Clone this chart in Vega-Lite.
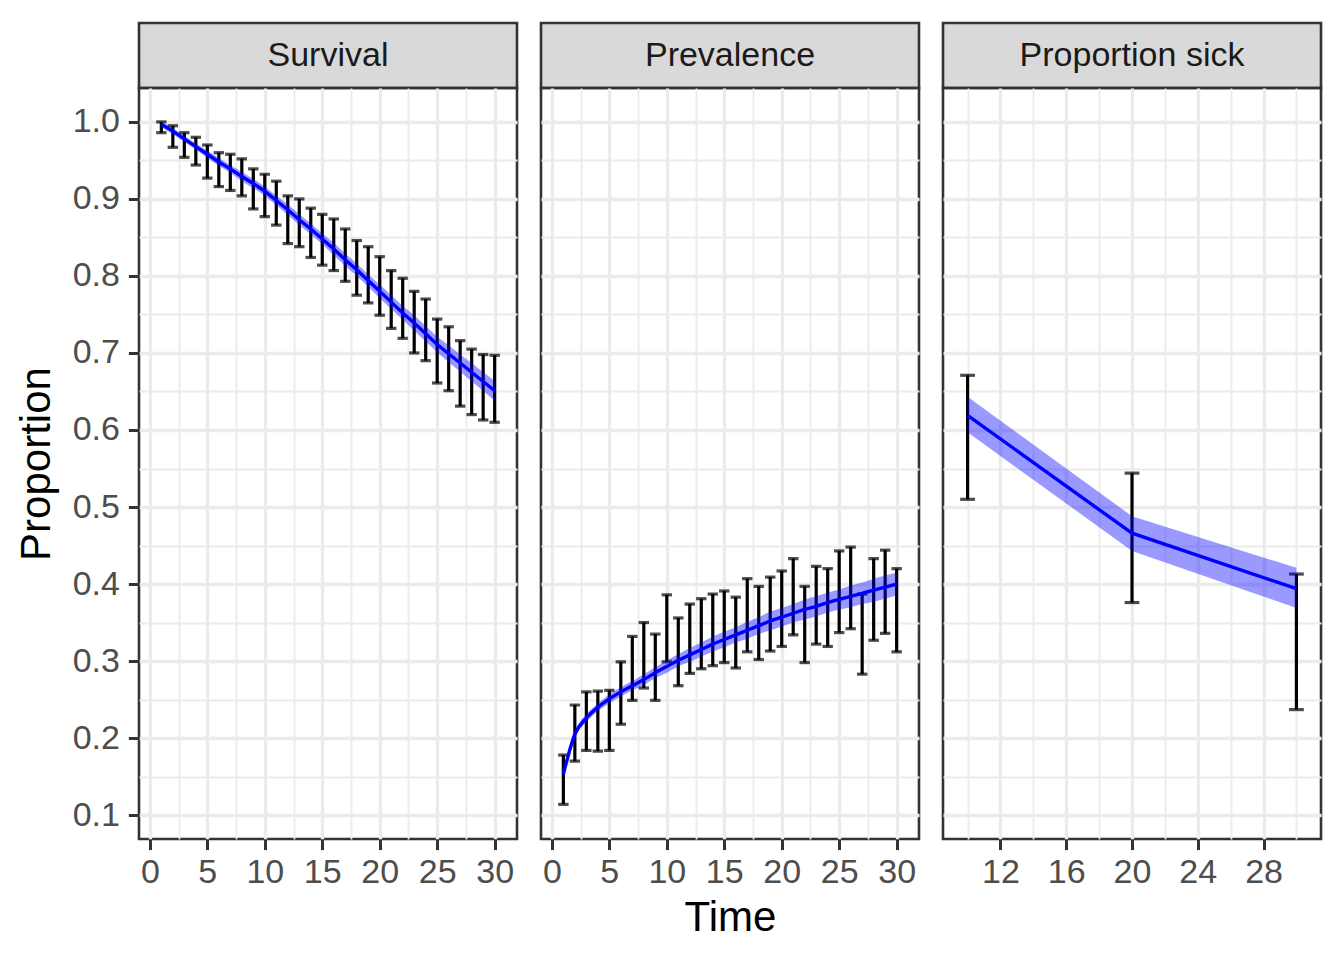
{
  "$schema": "https://vega.github.io/schema/vega-lite/v6.json",
  "padding": {"left": 13, "top": 21, "right": 0, "bottom": 0},
  "background": "white",
  "config": {
    "font": "Liberation Sans",
    "view": {"stroke": "#333333", "strokeWidth": 2.6},
    "axis": {
      "labelFont": "Liberation Sans", "labelFontSize": 34, "labelColor": "#4D4D4D",
      "titleFont": "Liberation Sans", "titleFontSize": 42, "titleColor": "#000000", "titleFontWeight": "normal",
      "tickColor": "#333333", "tickWidth": 3, "tickSize": 10.6,
      "domain": false, "gridColor": "#EBEBEB", "labelFlush": false, "labelOverlap": false
    },
    "axisX": {"labelPadding": 6, "titlePadding": 8},
    "axisY": {"labelPadding": 9, "titlePadding": 14}
  },
  "datasets": {
    "surv": [
      {"t": 1, "lo": 0.986, "hi": 1.000, "fit": 0.997, "flo": 0.993, "fhi": 1.000},
      {"t": 2, "lo": 0.967, "hi": 0.995, "fit": 0.988, "flo": 0.984, "fhi": 0.992},
      {"t": 3, "lo": 0.954, "hi": 0.986, "fit": 0.978, "flo": 0.974, "fhi": 0.982},
      {"t": 4, "lo": 0.944, "hi": 0.980, "fit": 0.968, "flo": 0.964, "fhi": 0.972},
      {"t": 5, "lo": 0.927, "hi": 0.970, "fit": 0.958, "flo": 0.953, "fhi": 0.963},
      {"t": 6, "lo": 0.916, "hi": 0.960, "fit": 0.948, "flo": 0.943, "fhi": 0.953},
      {"t": 7, "lo": 0.911, "hi": 0.958, "fit": 0.939, "flo": 0.934, "fhi": 0.944},
      {"t": 8, "lo": 0.904, "hi": 0.952, "fit": 0.929, "flo": 0.923, "fhi": 0.935},
      {"t": 9, "lo": 0.887, "hi": 0.939, "fit": 0.920, "flo": 0.914, "fhi": 0.926},
      {"t": 10, "lo": 0.877, "hi": 0.932, "fit": 0.910, "flo": 0.904, "fhi": 0.916},
      {"t": 11, "lo": 0.866, "hi": 0.923, "fit": 0.898, "flo": 0.892, "fhi": 0.904},
      {"t": 12, "lo": 0.842, "hi": 0.904, "fit": 0.886, "flo": 0.879, "fhi": 0.893},
      {"t": 13, "lo": 0.838, "hi": 0.900, "fit": 0.873, "flo": 0.866, "fhi": 0.880},
      {"t": 14, "lo": 0.824, "hi": 0.888, "fit": 0.861, "flo": 0.854, "fhi": 0.868},
      {"t": 15, "lo": 0.814, "hi": 0.880, "fit": 0.848, "flo": 0.841, "fhi": 0.855},
      {"t": 16, "lo": 0.807, "hi": 0.874, "fit": 0.835, "flo": 0.827, "fhi": 0.843},
      {"t": 17, "lo": 0.793, "hi": 0.861, "fit": 0.821, "flo": 0.813, "fhi": 0.829},
      {"t": 18, "lo": 0.775, "hi": 0.846, "fit": 0.808, "flo": 0.800, "fhi": 0.816},
      {"t": 19, "lo": 0.765, "hi": 0.838, "fit": 0.794, "flo": 0.786, "fhi": 0.802},
      {"t": 20, "lo": 0.749, "hi": 0.825, "fit": 0.780, "flo": 0.771, "fhi": 0.789},
      {"t": 21, "lo": 0.732, "hi": 0.807, "fit": 0.766, "flo": 0.757, "fhi": 0.775},
      {"t": 22, "lo": 0.719, "hi": 0.797, "fit": 0.752, "flo": 0.743, "fhi": 0.761},
      {"t": 23, "lo": 0.700, "hi": 0.780, "fit": 0.739, "flo": 0.729, "fhi": 0.749},
      {"t": 24, "lo": 0.690, "hi": 0.770, "fit": 0.725, "flo": 0.715, "fhi": 0.735},
      {"t": 25, "lo": 0.661, "hi": 0.744, "fit": 0.711, "flo": 0.701, "fhi": 0.721},
      {"t": 26, "lo": 0.651, "hi": 0.734, "fit": 0.699, "flo": 0.688, "fhi": 0.710},
      {"t": 27, "lo": 0.631, "hi": 0.716, "fit": 0.687, "flo": 0.676, "fhi": 0.698},
      {"t": 28, "lo": 0.620, "hi": 0.705, "fit": 0.675, "flo": 0.663, "fhi": 0.687},
      {"t": 29, "lo": 0.613, "hi": 0.698, "fit": 0.663, "flo": 0.651, "fhi": 0.675},
      {"t": 30, "lo": 0.610, "hi": 0.697, "fit": 0.651, "flo": 0.638, "fhi": 0.664}
    ],
    "prev": [
      {"t": 1, "lo": 0.114, "hi": 0.178, "fit": 0.153, "flo": 0.150, "fhi": 0.156},
      {"t": 2, "lo": 0.170, "hi": 0.243, "fit": 0.205, "flo": 0.201, "fhi": 0.209},
      {"t": 3, "lo": 0.184, "hi": 0.260, "fit": 0.226, "flo": 0.221, "fhi": 0.231},
      {"t": 4, "lo": 0.183, "hi": 0.261, "fit": 0.240, "flo": 0.235, "fhi": 0.245},
      {"t": 5, "lo": 0.184, "hi": 0.262, "fit": 0.251, "flo": 0.245, "fhi": 0.257},
      {"t": 6, "lo": 0.218, "hi": 0.299, "fit": 0.260, "flo": 0.254, "fhi": 0.266},
      {"t": 7, "lo": 0.249, "hi": 0.332, "fit": 0.268, "flo": 0.262, "fhi": 0.274},
      {"t": 8, "lo": 0.265, "hi": 0.350, "fit": 0.276, "flo": 0.269, "fhi": 0.283},
      {"t": 9, "lo": 0.249, "hi": 0.335, "fit": 0.285, "flo": 0.278, "fhi": 0.292},
      {"t": 10, "lo": 0.299, "hi": 0.386, "fit": 0.293, "flo": 0.285, "fhi": 0.301},
      {"t": 11, "lo": 0.268, "hi": 0.356, "fit": 0.301, "flo": 0.293, "fhi": 0.309},
      {"t": 12, "lo": 0.284, "hi": 0.374, "fit": 0.308, "flo": 0.299, "fhi": 0.317},
      {"t": 13, "lo": 0.290, "hi": 0.381, "fit": 0.315, "flo": 0.306, "fhi": 0.324},
      {"t": 14, "lo": 0.294, "hi": 0.387, "fit": 0.322, "flo": 0.312, "fhi": 0.332},
      {"t": 15, "lo": 0.298, "hi": 0.391, "fit": 0.328, "flo": 0.318, "fhi": 0.338},
      {"t": 16, "lo": 0.291, "hi": 0.383, "fit": 0.334, "flo": 0.324, "fhi": 0.344},
      {"t": 17, "lo": 0.312, "hi": 0.407, "fit": 0.340, "flo": 0.329, "fhi": 0.351},
      {"t": 18, "lo": 0.302, "hi": 0.397, "fit": 0.346, "flo": 0.335, "fhi": 0.357},
      {"t": 19, "lo": 0.313, "hi": 0.409, "fit": 0.352, "flo": 0.340, "fhi": 0.364},
      {"t": 20, "lo": 0.319, "hi": 0.417, "fit": 0.357, "flo": 0.345, "fhi": 0.369},
      {"t": 21, "lo": 0.334, "hi": 0.433, "fit": 0.362, "flo": 0.350, "fhi": 0.374},
      {"t": 22, "lo": 0.298, "hi": 0.397, "fit": 0.367, "flo": 0.354, "fhi": 0.380},
      {"t": 23, "lo": 0.322, "hi": 0.423, "fit": 0.371, "flo": 0.358, "fhi": 0.384},
      {"t": 24, "lo": 0.319, "hi": 0.420, "fit": 0.376, "flo": 0.363, "fhi": 0.389},
      {"t": 25, "lo": 0.337, "hi": 0.443, "fit": 0.380, "flo": 0.367, "fhi": 0.393},
      {"t": 26, "lo": 0.342, "hi": 0.448, "fit": 0.384, "flo": 0.370, "fhi": 0.398},
      {"t": 27, "lo": 0.283, "hi": 0.387, "fit": 0.388, "flo": 0.374, "fhi": 0.402},
      {"t": 28, "lo": 0.327, "hi": 0.433, "fit": 0.392, "flo": 0.377, "fhi": 0.407},
      {"t": 29, "lo": 0.336, "hi": 0.444, "fit": 0.396, "flo": 0.381, "fhi": 0.411},
      {"t": 30, "lo": 0.312, "hi": 0.420, "fit": 0.400, "flo": 0.385, "fhi": 0.415}
    ],
    "sick": [
      {"t": 10, "lo": 0.510, "hi": 0.671, "fit": 0.619, "flo": 0.597, "fhi": 0.643},
      {"t": 20, "lo": 0.376, "hi": 0.544, "fit": 0.466, "flo": 0.443, "fhi": 0.488},
      {"t": 30, "lo": 0.237, "hi": 0.413, "fit": 0.394, "flo": 0.369, "fhi": 0.421}
    ]
  },
  "hconcat": [
    {
      "vconcat": [
        {
          "width": 378, "height": 65,
          "view": {"fill": "#D9D9D9", "stroke": "#333333", "strokeWidth": 2.6},
          "data": {"values": [{"label": "Survival"}]},
          "mark": {"type": "text", "font": "Liberation Sans", "fontSize": 34, "color": "#1A1A1A"},
          "encoding": {"text": {"field": "label"}}
        },
        {
          "width": 378, "height": 751,
          "data": {"name": "surv"},
          "encoding": {
            "x": {"field": "t", "type": "quantitative",
              "scale": {"domain": [-0.945, 31.945], "nice": false, "zero": false},
              "axis": {"title": null, "values": [0, 2.5, 5, 7.5, 10, 12.5, 15, 17.5, 20, 22.5, 25, 27.5, 30],
                "labelExpr": "datum.value % 5 === 0 ? format(datum.value, 'd') : ''",
                "tickOpacity": {"condition": {"test": "datum.value % 5 !== 0", "value": 0}, "value": 1},
                "gridWidth": {"condition": {"test": "datum.value % 5 !== 0", "value": 1.8}, "value": 3.3}}}
          },
          "layer": [
            {"mark": {"type": "rule", "color": "#000000", "strokeWidth": 3.2},
             "encoding": {
               "y": {"field": "lo", "type": "quantitative", "title": "Proportion",
                 "scale": {"domain": [0.069, 1.044], "nice": false, "zero": false},
                 "axis": {"title": "Proportion", "values": [0.1, 0.15, 0.2, 0.25, 0.3, 0.35, 0.4, 0.45, 0.5, 0.55, 0.6, 0.65, 0.7, 0.75, 0.8, 0.85, 0.9, 0.95, 1.0],
                   "labelExpr": "round(datum.value * 100) % 10 === 0 ? format(datum.value, '.1f') : ''",
                   "tickOpacity": {"condition": {"test": "round(datum.value * 100) % 10 !== 0", "value": 0}, "value": 1},
                   "gridWidth": {"condition": {"test": "round(datum.value * 100) % 10 !== 0", "value": 1.8}, "value": 3.3}}},
               "y2": {"field": "hi"}}},
            {"mark": {"type": "tick", "orient": "horizontal", "color": "#000000", "thickness": 3.2, "size": 10.4},
             "encoding": {"y": {"field": "lo", "type": "quantitative", "title": "Proportion"}}},
            {"mark": {"type": "tick", "orient": "horizontal", "color": "#000000", "thickness": 3.2, "size": 10.4},
             "encoding": {"y": {"field": "hi", "type": "quantitative", "title": "Proportion"}}},
            {"mark": {"type": "area", "color": "#0000FF", "opacity": 0.4},
             "encoding": {"y": {"field": "flo", "type": "quantitative", "title": "Proportion"}, "y2": {"field": "fhi"}}},
            {"mark": {"type": "line", "color": "#0000FF", "strokeWidth": 3.4},
             "encoding": {"y": {"field": "fit", "type": "quantitative", "title": "Proportion"}}}
          ]
        }
      ],
      "spacing": 0, "bounds": "flush"
    },
    {
      "vconcat": [
        {
          "width": 378, "height": 65,
          "view": {"fill": "#D9D9D9", "stroke": "#333333", "strokeWidth": 2.6},
          "data": {"values": [{"label": "Prevalence"}]},
          "mark": {"type": "text", "font": "Liberation Sans", "fontSize": 34, "color": "#1A1A1A"},
          "encoding": {"text": {"field": "label"}}
        },
        {
          "width": 378, "height": 751,
          "data": {"name": "prev"},
          "encoding": {
            "x": {"field": "t", "type": "quantitative",
              "scale": {"domain": [-0.945, 31.945], "nice": false, "zero": false},
              "axis": {"title": "Time", "values": [0, 2.5, 5, 7.5, 10, 12.5, 15, 17.5, 20, 22.5, 25, 27.5, 30],
                "labelExpr": "datum.value % 5 === 0 ? format(datum.value, 'd') : ''",
                "tickOpacity": {"condition": {"test": "datum.value % 5 !== 0", "value": 0}, "value": 1},
                "gridWidth": {"condition": {"test": "datum.value % 5 !== 0", "value": 1.8}, "value": 3.3}}}
          },
          "layer": [
            {"mark": {"type": "rule", "color": "#000000", "strokeWidth": 3.2},
             "encoding": {
               "y": {"field": "lo", "type": "quantitative", "title": null,
                 "scale": {"domain": [0.069, 1.044], "nice": false, "zero": false},
                 "axis": {"title": null, "labels": false, "ticks": false, "values": [0.1, 0.15, 0.2, 0.25, 0.3, 0.35, 0.4, 0.45, 0.5, 0.55, 0.6, 0.65, 0.7, 0.75, 0.8, 0.85, 0.9, 0.95, 1.0],
                   "gridWidth": {"condition": {"test": "round(datum.value * 100) % 10 !== 0", "value": 1.8}, "value": 3.3}}},
               "y2": {"field": "hi"}}},
            {"mark": {"type": "tick", "orient": "horizontal", "color": "#000000", "thickness": 3.2, "size": 10.4},
             "encoding": {"y": {"field": "lo", "type": "quantitative", "title": null}}},
            {"mark": {"type": "tick", "orient": "horizontal", "color": "#000000", "thickness": 3.2, "size": 10.4},
             "encoding": {"y": {"field": "hi", "type": "quantitative", "title": null}}},
            {"mark": {"type": "area", "color": "#0000FF", "opacity": 0.4, "interpolate": "monotone"},
             "encoding": {"y": {"field": "flo", "type": "quantitative", "title": null}, "y2": {"field": "fhi"}}},
            {"mark": {"type": "line", "color": "#0000FF", "strokeWidth": 3.4, "interpolate": "monotone"},
             "encoding": {"y": {"field": "fit", "type": "quantitative", "title": null}}}
          ]
        }
      ],
      "spacing": 0, "bounds": "flush"
    },
    {
      "vconcat": [
        {
          "width": 378, "height": 65,
          "view": {"fill": "#D9D9D9", "stroke": "#333333", "strokeWidth": 2.6},
          "data": {"values": [{"label": "Proportion sick"}]},
          "mark": {"type": "text", "font": "Liberation Sans", "fontSize": 34, "color": "#1A1A1A"},
          "encoding": {"text": {"field": "label"}}
        },
        {
          "width": 378, "height": 751,
          "data": {"name": "sick"},
          "encoding": {
            "x": {"field": "t", "type": "quantitative",
              "scale": {"domain": [8.505, 31.495], "nice": false, "zero": false},
              "axis": {"title": null, "values": [10, 12, 14, 16, 18, 20, 22, 24, 26, 28, 30],
                "labelExpr": "datum.value % 4 === 0 ? format(datum.value, 'd') : ''",
                "tickOpacity": {"condition": {"test": "datum.value % 4 !== 0", "value": 0}, "value": 1},
                "gridWidth": {"condition": {"test": "datum.value % 4 !== 0", "value": 1.8}, "value": 3.3}}}
          },
          "layer": [
            {"mark": {"type": "rule", "color": "#000000", "strokeWidth": 3.2},
             "encoding": {
               "y": {"field": "lo", "type": "quantitative", "title": null,
                 "scale": {"domain": [0.069, 1.044], "nice": false, "zero": false},
                 "axis": {"title": null, "labels": false, "ticks": false, "values": [0.1, 0.15, 0.2, 0.25, 0.3, 0.35, 0.4, 0.45, 0.5, 0.55, 0.6, 0.65, 0.7, 0.75, 0.8, 0.85, 0.9, 0.95, 1.0],
                   "gridWidth": {"condition": {"test": "round(datum.value * 100) % 10 !== 0", "value": 1.8}, "value": 3.3}}},
               "y2": {"field": "hi"}}},
            {"mark": {"type": "tick", "orient": "horizontal", "color": "#000000", "thickness": 3.2, "size": 14.8},
             "encoding": {"y": {"field": "lo", "type": "quantitative", "title": null}}},
            {"mark": {"type": "tick", "orient": "horizontal", "color": "#000000", "thickness": 3.2, "size": 14.8},
             "encoding": {"y": {"field": "hi", "type": "quantitative", "title": null}}},
            {"mark": {"type": "area", "color": "#0000FF", "opacity": 0.4},
             "encoding": {"y": {"field": "flo", "type": "quantitative", "title": null}, "y2": {"field": "fhi"}}},
            {"mark": {"type": "line", "color": "#0000FF", "strokeWidth": 3.4},
             "encoding": {"y": {"field": "fit", "type": "quantitative", "title": null}}}
          ]
        }
      ],
      "spacing": 0, "bounds": "flush"
    }
  ],
  "spacing": 20,
  "resolve": {"scale": {"x": "independent", "y": "independent"}, "axis": {"x": "independent", "y": "independent"}}
}
